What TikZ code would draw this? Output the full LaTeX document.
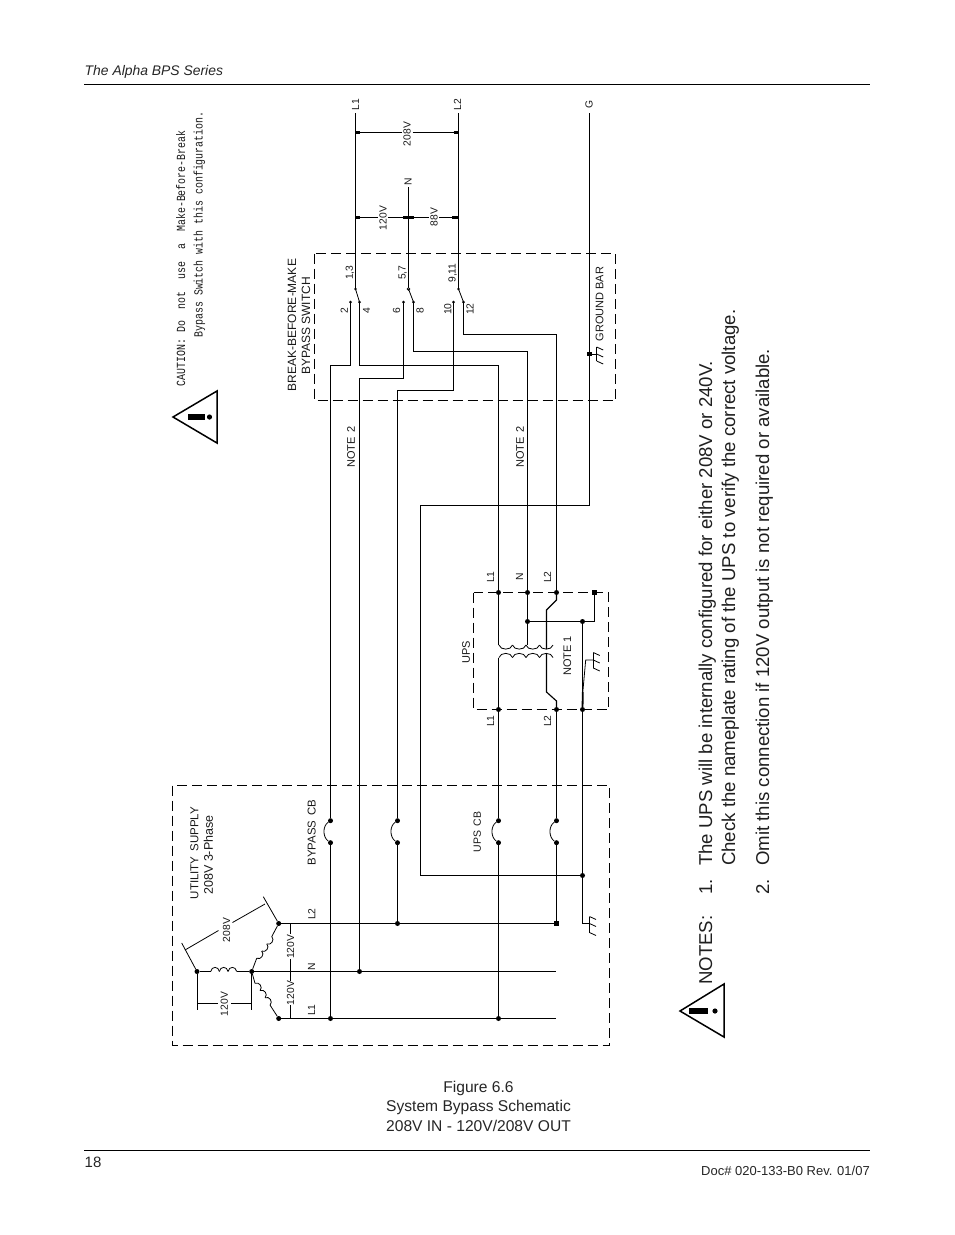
\documentclass[tikz,border=0pt]{standalone}
\usepackage{fontspec}
\setmainfont{Liberation Sans}
\newfontfamily\cad{Liberation Sans}
\newfontfamily\cadm[FakeStretch=0.8]{Liberation Mono}
\newcommand{\csize}[1]{\cad\fontsize{#1}{#1}\selectfont}
\newcommand{\msize}[1]{\cadm\fontsize{#1}{#1}\selectfont}
\newcommand{\psize}[1]{\fontsize{#1}{#1}\selectfont}
\tikzset{
  wire/.style={line width=1.15pt,black},
  thin wire/.style={line width=0.8pt,black},
  dashbox/.style={line width=0.9pt,black,dash pattern=on 10pt off 5pt},
  dot/.style={circle,fill=black,inner sep=0pt,minimum size=5pt},
  lab/.style={rotate=90,inner sep=0pt,font=\csize{10.3},text=black!90},
  biglab/.style={rotate=90,inner sep=0pt,font=\csize{11},text=black!90},
  cautiontext/.style={rotate=90,inner sep=0pt,font=\msize{12.4},text=black!90},
  note/.style={rotate=90,inner sep=0pt,anchor=base west,font=\psize{18.6},text=black!88},
  pagetext/.style={inner sep=0pt,text=black!85},
  rule/.style={line width=1pt,black}
}
\usetikzlibrary{calc}
% ground symbol: bar through #1, #2 up and #3 down, with three slanted ticks
\newcommand{\gnd}[3]{%
  \draw[thin wire] ($(#1)+(0,-#2)$) -- ($(#1)+(0,#3)$);
  \draw[thin wire] ($(#1)+(0,-#2)$) -- ++(6.5,3);
  \draw[thin wire] ($(#1)+(0,0)$) -- ++(6.5,3);
  \draw[thin wire] ($(#1)+(0,#3)$) -- ++(6.5,3);
}
% warning triangle
\newcommand{\warn}[8]{%
  \draw[line width=1.5pt,black,line join=miter] (#1,#2) -- (#3,#4) -- (#3,#5) -- cycle;
  \draw[line width=6pt,black] (#6,#2) -- (#7,#2);
  \fill[black] (#8,#2) circle (2.6pt);
}
% n bumps along a direction
\newcommand{\bumps}[5]{% start, angle, n, width, height
  \begin{scope}[shift={(#1)},rotate=#2]
    \foreach \i in {1,...,#3}{
      \draw[thin wire] ({(\i-1)*#4},0) .. controls ({(\i-1)*#4+0.1*#4},#5) and ({\i*#4-0.1*#4},#5) .. ({\i*#4},0);
    }
  \end{scope}
}
\begin{document}
\begin{tikzpicture}[x=1pt,y=-1pt]
\useasboundingbox[fill=white] (0,0) rectangle (954,1235);

% ---- page furniture
\node[pagetext,anchor=base west,font=\psize{13.9}\itshape] (hdr) at (84.5,75.5) {The Alpha BPS Series};
\coordinate (hrA) at (84,84.5); \coordinate (hrB) at (870,84.5);
\draw[line width=1.6pt,black] (hrA) -- (hrB);
\coordinate (frA) at (84,1150.5); \coordinate (frB) at (870,1150.5);
\draw[rule] (frA) -- (frB);
\node[pagetext,anchor=base west,font=\psize{15}] (pg) at (84.5,1167.5) {18};
\node[pagetext,anchor=base east,font=\psize{13}] (doc) at (870,1175) {Doc\# 020-133-B0 Rev. 01/07};
\node[pagetext,anchor=base,font=\psize{15.6}] (figa) at (478.5,1092) {Figure 6.6};
\node[pagetext,anchor=base,font=\psize{15.6}] (figb) at (478.5,1111) {System Bypass Schematic};
\node[pagetext,anchor=base,font=\psize{15.6}] (figc) at (478.5,1131) {208V IN - 120V/208V OUT};

% ---- dashed boxes
\draw[dashbox] (314.5,253.5) rectangle (615.5,400.5);
\draw[dashbox] (473.5,592.5) rectangle (608.5,709.5);
\draw[dashbox] (172.5,785.5) rectangle (609.5,1045.5);

% ---- coordinates
\coordinate (L1t) at (355.5,113); \coordinate (L2t) at (458.5,113);
\coordinate (Gt) at (589.5,113); \coordinate (Nt) at (408.5,187);
\coordinate (p1) at (355.5,289); \coordinate (p2) at (408.5,289); \coordinate (p3) at (458.5,289);
\coordinate (c2) at (350.5,302); \coordinate (c4) at (359.5,302);
\coordinate (c6) at (403.5,302); \coordinate (c8) at (413.5,302);
\coordinate (c10) at (453.5,302); \coordinate (c12) at (463.5,302);

\node[dot] (tL1) at (278.7,1018.5) {};
\node[dot] (tL2) at (278.7,923.5) {};
\node[dot] (tC)  at (251.7,971.5) {};
\node[dot] (tA)  at (197,971.5) {};
\coordinate (eL1) at (556,1018.5); \coordinate (eN) at (556,971.5);
\node[dot,minimum size=4.6pt,rectangle] (eL2) at (556.5,923.5) {};

% circuit breakers
\foreach \n/\x in {a/330.5,b/397.5,c/498.5,d/556.5}{
  \node[dot] (\n T) at (\x,820.7) {};
  \node[dot] (\n B) at (\x,842.7) {};
  \draw[thin wire] (\n T) .. controls (\x-8,826) and (\x-8,837) .. (\n B);
}
\node[dot] (aL1) at (330.5,1018.5) {};
\node[dot] (cL1) at (498.5,1018.5) {};
\node[dot] (bL2) at (397.5,923.5) {};
\node[dot] (nN) at (359.5,971.5) {};

% UPS dots
\node[dot] (u1) at (498.5,592.5) {};
\node[dot] (uN) at (527.5,592.5) {};
\node[dot] (u2) at (556.5,592.5) {};
\node[dot,rectangle,minimum size=4.6pt] (uG) at (594.5,592.5) {};
\node[dot] (uNb) at (527.5,621.5) {};
\node[dot] (uGm) at (582.5,621.5) {};
\node[dot] (d1) at (498.5,709.5) {};
\node[dot] (d2) at (556.5,709.5) {};
\node[dot] (dG) at (582.5,709.5) {};
\node[dot] (gj) at (582.5,875.5) {};
\coordinate (gl) at (582.5,923.5); \coordinate (gb) at (589.5,923.5);

% ---- buses and feeders from switch
\draw[wire] (L1t) -- (p1);
\draw[wire] (L2t) -- (p3);
\draw[wire] (Nt) -- (p2);
\node[dot,minimum size=2.6pt] (pp1) at (p1) {};
\node[dot,fill=white,draw=black,minimum size=2.8pt,line width=0.6pt] (pp2) at (p2) {};
\node[dot,minimum size=2.6pt] (pp3) at (p3) {};
\draw[thin wire] (p1) -- (c4);
\draw[thin wire] (p2) -- (c8);
\draw[thin wire] (p3) -- (c12);
\foreach \c in {c2,c4,c6,c8,c10,c12}{\node[dot,minimum size=3pt] (d\c) at (\c) {};}

% contact 2 -> bypass L1
\draw[wire] (c2) -- (350.5,365.5) -- (330.5,365.5) -- (aT);
\draw[wire] (aB) -- (aL1);
% contact 4 -> UPS L1
\draw[wire] (c4) -- (359.5,365.5) -- (498.5,365.5) -- (u1);
\draw[wire] (u1) -- (498.5,645);
\draw[wire] (498.5,657.5) -- (d1);
\draw[wire] (d1) -- (cT);
\draw[wire] (cB) -- (cL1);
% contact 6 -> N
\draw[wire] (c6) -- (403.5,378.5) -- (359.5,378.5) -- (nN);
% contact 8 -> UPS N
\draw[wire] (c8) -- (413.5,351.5) -- (527.5,351.5) -- (uN);
\draw[wire] (uN) -- (527.5,645);
% contact 10 -> bypass L2
\draw[wire] (c10) -- (453.5,390.5) -- (397.5,390.5) -- (bT);
\draw[wire] (bB) -- (bL2);
% contact 12 -> UPS L2
\draw[wire] (c12) -- (463.5,334.5) -- (556.5,334.5) -- (u2);
\draw[wire] (u2) -- (556.5,600) -- (546.5,610) -- (546.5,649);
\draw[wire] (546.5,653.5) -- (546.5,692) -- (556.5,701) -- (d2);
\draw[wire] (d2) -- (dT);
\draw[wire] (dB) -- (eL2);
% G
\draw[wire] (Gt) -- (589.5,505.5) -- (420.5,505.5) -- (420.5,875.5) -- (gj);
\node[dot,rectangle,minimum size=4.6pt] (gbar) at (589.5,354) {};
\coordinate (gs) at (596.7,354);
\draw[thin wire] (gbar) -- (gs);
\gnd{gs}{7}{7}
% UPS internal
\draw[wire] (uG) -- (594.5,621.5) -- (uNb);
\draw[wire] (uGm) -- (dG);
\draw[wire] (dG) -- (gj);
\draw[wire] (gj) -- (gl) -- (gb);
\gnd{gb}{7}{9}
% UPS ground
\coordinate (ug) at (593.3,660);
\draw[line width=1.8pt] (dG) -- (582.8,692);
\draw[thin wire] (582.8,692) -- (585.7,660) -- (ug);
\gnd{ug}{7.5}{8}

% transformer coils
\bumps{499,645}{0}{4}{13.5}{5.5}
\bumps{499,657.5}{0}{4}{13.5}{-5.5}

% utility buses
\draw[wire] (tL1) -- (eL1);
\draw[wire] (tC) -- (eN);
\draw[wire] (tL2) -- (eL2);
% wye
\draw[wire] (tA) -- (210.7,971.5);
\draw[wire] (236.7,971.5) -- (tC);
\bumps{210.7,971.5}{0}{3}{8.67}{-5.5}
\draw[thin wire] (tC) -- (256.7,958.3);
\draw[thin wire] (271.7,936.7) -- (tL2);
\bumps{256.7,958.3}{55}{3}{8.8}{4.5}
\draw[thin wire] (tC) -- (255,983.3);
\draw[thin wire] (270,1005) -- (tL1);
\bumps{255,983.3}{-55}{3}{8.8}{-4.5}
% wye dims
\draw[thin wire] (tA) -- (181.7,943);
\draw[thin wire] (tL2) -- (263.3,896.7);
\draw[thin wire] (185,950) -- (218.5,930.5);
\draw[thin wire] (232.5,922.5) -- (265,904);
\draw[thin wire] (tA) -- (197,1010);
\draw[thin wire] (tC) -- (251.7,1010);
\draw[thin wire] (197,1003) -- (218,1003);
\draw[thin wire] (231,1003) -- (251.7,1003);
\draw[thin wire] (290.5,923.5) -- (290.5,934);
\draw[thin wire] (290.5,959) -- (290.5,971.5);
\draw[thin wire] (290.5,971.5) -- (290.5,981);
\draw[thin wire] (290.5,1005) -- (290.5,1018.5);
\draw[line width=1.8pt] (290.5,969.5) -- (290.5,974);
\draw[line width=1.8pt] (290.5,923.5) -- (290.5,926);
\draw[line width=1.8pt] (290.5,1016) -- (290.5,1018.5);

% top dims
\draw[wire] (355.5,132.5) -- (401.7,132.5);
\draw[wire] (412.7,132.5) -- (458.5,132.5);
\draw[line width=2.4pt] (355.5,132.5) -- (360,132.5);
\draw[line width=2.4pt] (453.7,132.5) -- (458.5,132.5);
\draw[wire] (355.5,217.5) -- (378,217.5);
\draw[wire] (388,217.5) -- (429,217.5);
\draw[wire] (439,217.5) -- (458.5,217.5);
\draw[line width=2.4pt] (355.5,217.5) -- (360,217.5);
\draw[line width=2.4pt] (403,217.5) -- (413.5,217.5);
\draw[line width=2.4pt] (452,217.5) -- (458.5,217.5);

% ---- CAD labels
\node[lab] (lL1) at (355.5,104.5) {L1};
\node[lab] (lL2) at (457.5,104.5) {L2};
\node[lab] (lG)  at (589,104.5) {G};
\node[lab] (lN)  at (408,182) {N};
\node[lab] (l208) at (407,134) {208V};
\node[lab] (l120) at (383,218) {120V};
\node[lab] (l88)  at (434,217) {88V};
\node[lab] (s13) at (350,272.7) {1,3};
\node[lab] (s57) at (402.7,272.7) {5,7};
\node[lab] (s911) at (452.7,273) {9,11};
\node[lab] (s2) at (344.3,310.7) {2};
\node[lab] (s4) at (366.7,310.7) {4};
\node[lab] (s6) at (396.7,310.7) {6};
\node[lab] (s8) at (420,310.7) {8};
\node[lab] (s10) at (447.7,309) {10};
\node[lab] (s12) at (470,309) {12};
\node[biglab,font=\csize{12}] (bbm) at (292,325) {BREAK-BEFORE-MAKE};
\node[biglab,font=\csize{12}] (bsw) at (306,326) {BYPASS SWITCH};
\node[biglab] (gbt) at (599.5,304) {GROUND BAR};
\node[biglab] (n2a) at (351,447) {NOTE \,2};
\node[biglab] (n2b) at (520,447) {NOTE \,2};
\node[lab] (uL1) at (490.5,577) {L1};
\node[lab] (uNl) at (519.5,577) {N};
\node[lab] (uL2) at (547.5,577) {L2};
\node[lab] (bL1l) at (490.5,721) {L1};
\node[lab] (bL2l) at (547.5,721) {L2};
\node[biglab] (upsl) at (466,652) {UPS};
\node[biglab] (note1) at (567.3,656) {NOTE 1};
\node[biglab,font=\csize{11.5}] (usup) at (194.3,853) {UTILITY \,SUPPLY};
\node[biglab,font=\csize{12.5}] (u3ph) at (208.3,855) {208V 3-Phase};
\node[biglab,font=\csize{11.4}] (bcb) at (311.7,832.5) {BYPASS \,CB};
\node[biglab,font=\csize{10.5}] (ucb) at (477.3,832) {UPS \,CB};
\node[lab] (yL2t) at (311.7,914) {L2};
\node[lab] (yNt)  at (311.7,966.7) {N};
\node[lab] (yL1t) at (311.7,1010) {L1};
\node[lab] (y208) at (226.7,930) {208V};
\node[lab] (y120) at (224.3,1004) {120V};
\node[lab] (r120a) at (290.5,946.7) {120V};
\node[lab] (r120b) at (290.5,993) {120V};
\node[cautiontext] (cau1) at (180.7,258.5) {CAUTION:~Do~~not~~use~~a~~Make-Before-Break};
\node[cautiontext] (cau2) at (199.3,224.5) {Bypass Switch with this configuration.};

% ---- warning triangles
\warn{173}{417}{217}{391}{443}{188}{205}{209.5}
\warn{680}{1011}{724}{984}{1037}{689}{708}{715}

% ---- notes text
\node[note] (nh) at (712,985) {NOTES:};
\node[note] (n1a) at (712,895) {1.};
\node[note] (n1b) at (712,866) {The UPS will be internally configured for either 208V or 240V.};
\node[note] (n1c) at (735,866) {Check the nameplate rating of the UPS to verify the correct voltage.};
\node[note] (n2n) at (769,895) {2.};
\node[note] (n2t) at (769,866) {Omit this connection if 120V output is not required or available.};
\end{tikzpicture}
\end{document}
